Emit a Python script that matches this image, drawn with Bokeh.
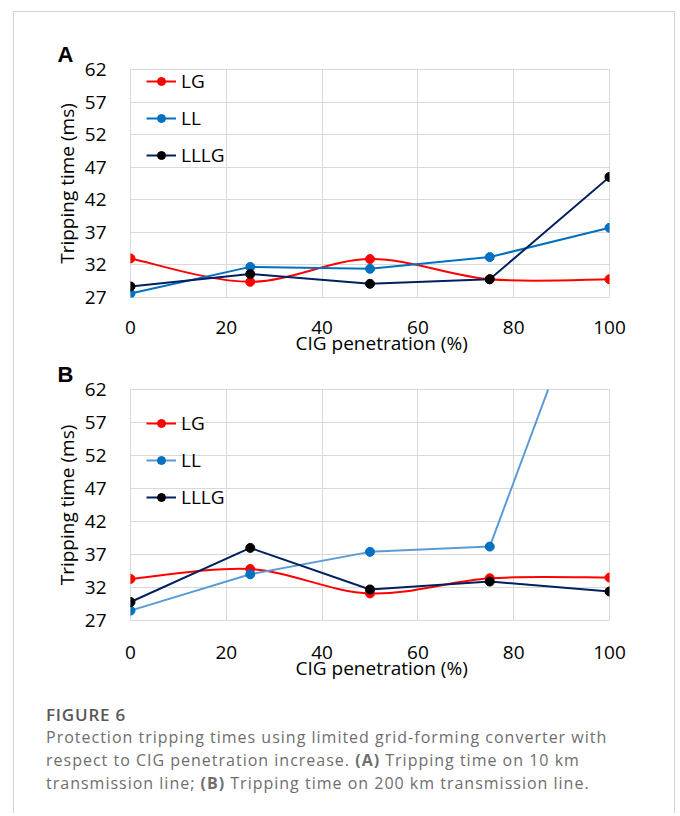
from bokeh.plotting import figure
from bokeh.models import (Legend, LegendItem, Title, Div, ColumnDataSource,
                          FixedTicker, Range1d)
from bokeh.layouts import column
from bokeh.embed import file_html
from bokeh.resources import INLINE

# ---------------- data ----------------
penetration = [0, 25, 50, 75, 100]
a_lg = [33.0, 29.4, 32.9, 29.8, 29.8]
a_ll = [27.6, 31.7, 31.4, 33.2, 37.7]
a_lllg = [28.7, 30.6, 29.1, 29.8, 45.5]
b_lg = [33.3, 34.8, 31.1, 33.4, 33.5]
b_ll = [28.5, 34.0, 37.4, 38.2, 87.0]
b_lllg = [29.8, 38.0, 31.7, 32.9, 31.4]
series_names = ["LG", "LL", "LLLG"]
x_ticks = [0, 20, 40, 60, 80, 100]
y_ticks = [27, 32, 37, 42, 47, 52, 57, 62]
x_label = "CIG penetration (%)"
y_label = "Tripping time (ms)"

FONT = "Open Sans"
RED = "#FF0000"
BLUE = "#0070C0"
LIGHT_BLUE = "#5B9BD5"
NAVY = "#002060"
GRID = "#D9D9D9"


def smooth_segments(xs, ys):
    """Bezier control points (Catmull-Rom style, like spreadsheet smoothed lines)."""
    n = len(xs)
    d = dict(x0=[], y0=[], x1=[], y1=[], cx0=[], cy0=[], cx1=[], cy1=[])
    for i in range(n - 1):
        i0 = max(i - 1, 0)
        i3 = min(i + 2, n - 1)
        d["x0"].append(xs[i]); d["y0"].append(ys[i])
        d["x1"].append(xs[i + 1]); d["y1"].append(ys[i + 1])
        d["cx0"].append(xs[i] + (xs[i + 1] - xs[i0]) / 6.0)
        d["cy0"].append(ys[i] + (ys[i + 1] - ys[i0]) / 6.0)
        d["cx1"].append(xs[i + 1] - (xs[i3] - xs[i]) / 6.0)
        d["cy1"].append(ys[i + 1] - (ys[i3] - ys[i]) / 6.0)
    return d


def panel(tag, lg, ll, lllg, ll_line, height, b_top, b_bottom, b_right,
          legend_xy, x_standoff, xlabel_standoff):
    p = figure(width=660, height=height, x_range=Range1d(0, 100),
               y_range=Range1d(27, 62), output_backend="svg",
               toolbar_location=None, min_border_left=116,
               min_border_right=b_right, min_border_top=b_top,
               min_border_bottom=b_bottom)
    p.outline_line_color = GRID
    p.background_fill_color = "white"
    p.border_fill_color = "white"

    p.title.text = tag
    p.title.align = "left"
    p.title.offset = -73
    p.title.standoff = 6
    p.title.text_font = "Liberation Sans"
    p.title.text_font_style = "bold"
    p.title.text_font_size = "22px"
    p.title.text_color = "#000000"

    p.xaxis.ticker = FixedTicker(ticks=x_ticks)
    p.yaxis.ticker = FixedTicker(ticks=y_ticks)
    for ax in (p.xaxis[0], p.yaxis[0]):
        ax.axis_line_color = None
        ax.major_tick_line_color = None
        ax.minor_tick_line_color = None
        ax.major_label_text_font = FONT
        ax.major_label_text_font_size = "19px"
        ax.major_label_text_color = "#000000"
    p.xaxis.major_label_standoff = x_standoff
    p.yaxis.major_label_standoff = 18
    p.yaxis.axis_label = y_label
    p.yaxis.axis_label_text_font = FONT
    p.yaxis.axis_label_text_font_size = "19px"
    p.yaxis.axis_label_text_font_style = "normal"
    p.yaxis.axis_label_text_color = "#000000"
    p.yaxis.axis_label_standoff = 2
    p.xgrid.grid_line_color = GRID
    p.ygrid.grid_line_color = GRID

    p.add_layout(Title(text=x_label, align="left", offset=165,
                       standoff=xlabel_standoff, text_font=FONT,
                       text_font_size="19px", text_font_style="normal",
                       text_color="#000000"), "below")

    # LG: smoothed line
    seg = ColumnDataSource(smooth_segments(penetration, lg))
    lg_curve = p.bezier(x0="x0", y0="y0", x1="x1", y1="y1", cx0="cx0",
                        cy0="cy0", cx1="cx1", cy1="cy1", source=seg,
                        line_color=RED, line_width=2)
    lg_pts = p.scatter(penetration, lg, size=9, color=RED)

    ll_line_r = p.line(penetration, ll, line_color=ll_line, line_width=2)
    ll_pts = p.scatter(penetration, ll, size=9, color=BLUE)

    lllg_line_r = p.line(penetration, lllg, line_color=NAVY, line_width=2)
    lllg_pts = p.scatter(penetration, lllg, size=9, color="#000000")

    legend = Legend(items=[
        LegendItem(label=series_names[0], renderers=[lg_curve, lg_pts]),
        LegendItem(label=series_names[1], renderers=[ll_line_r, ll_pts]),
        LegendItem(label=series_names[2], renderers=[lllg_line_r, lllg_pts]),
    ], location=legend_xy)
    legend.background_fill_alpha = 0
    legend.border_line_alpha = 0
    legend.padding = 0
    legend.margin = 0
    legend.spacing = 11
    legend.glyph_width = 30
    legend.glyph_height = 20
    legend.label_height = 20
    legend.label_standoff = 5
    legend.label_text_font = FONT
    legend.label_text_font_size = "19px"
    legend.label_text_color = "#000000"
    p.add_layout(legend, "center")
    return p


pA = panel("A", a_lg, a_ll, a_lllg, BLUE, height=343, b_top=57,
           b_bottom=58, b_right=65, legend_xy=(16, 129),
           x_standoff=17, xlabel_standoff=-17)
pB = panel("B", b_lg, b_ll, b_lllg, LIGHT_BLUE, height=330, b_top=34,
           b_bottom=65, b_right=61, legend_xy=(16, 110),
           x_standoff=19, xlabel_standoff=-17)

caption = Div(
    text=('<div style="font-family:\'Open Sans\';color:#575757;font-size:17px;'
          'font-weight:600;letter-spacing:0.8px;line-height:23px;">FIGURE 6</div>'
          '<div style="font-family:\'Open Sans\';color:#6e6e6e;font-size:16px;'
          'letter-spacing:1px;line-height:23px;white-space:nowrap;">'
          'Protection tripping times using limited grid-forming converter with<br>'
          'respect to CIG penetration increase. <b>(A)</b> Tripping time on 10 km<br>'
          'transmission line; <b>(B)</b> Tripping time on 200 km transmission line.'
          '</div>'),
    width=633, height=118,
    styles={"padding-left": "27px", "padding-top": "13px"})

layout = column(pA, pB, caption,
                styles={"border-left": "1px solid #D3D3D3",
                        "border-right": "1px solid #D3D3D3",
                        "border-top": "1px solid #D3D3D3",
                        "margin-left": "13px", "margin-top": "11px"})

open("out.html", "w").write(file_html(layout, INLINE))
